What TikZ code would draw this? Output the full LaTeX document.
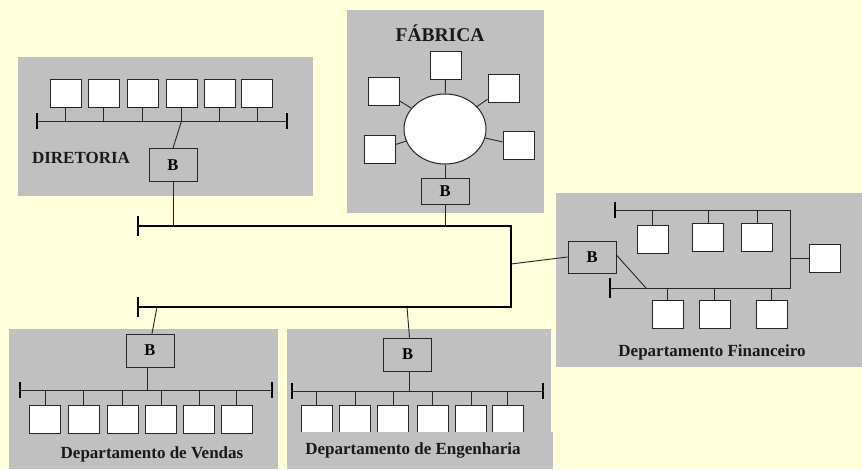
\documentclass[tikz,border=0pt]{standalone}
\usepackage{fontspec}
\setmainfont{Liberation Serif}
\usetikzlibrary{shapes.geometric}
\definecolor{bgyel}{HTML}{FFFFDC}
\definecolor{panelgray}{HTML}{C0C0C0}
\begin{document}
\begin{tikzpicture}[x=1pt,y=-1pt,
  panel/.style={fill=panelgray,draw=none},
  pc/.style={draw=black!85,fill=white,line width=1pt,minimum width=31pt,minimum height=28pt,inner sep=0pt},
  bridge/.style={draw=black!85,line width=0.9pt,minimum width=48pt,minimum height=33pt,inner sep=0pt,font=\fontsize{16.5}{16.5}\selectfont\bfseries},
  wire/.style={draw=black!85,line width=0.9pt},
  bus/.style={draw=black!85,line width=1pt},
  endbar/.style={draw=black,line width=2.6pt},
  backbone/.style={draw=black,line width=2.8pt},
  lbl/.style={font=\fontsize{17}{17}\selectfont\bfseries,text=black!90},
]
\useasboundingbox (0,0) rectangle (862,469);
\fill[bgyel] (0,0) rectangle (862,469);

% panels
\fill[panel] (18,57) rectangle (313,196);
\fill[panel] (347,10) rectangle (544,213);
\fill[panel] (556,193) rectangle (862,367);
\fill[panel] (9,329) rectangle (278,469);
\fill[panel] (287,329) rectangle (551,469);

% ---------------- DIRETORIA ----------------
\coordinate (dbl) at (37,121);
\coordinate (dbr) at (287,121);
\draw[bus] (dbl) -- (dbr);
\draw[endbar] (dbl) ++(0,-8) -- ++(0,16);
\draw[endbar] (dbr) ++(0,-8) -- ++(0,16);
\foreach \i/\x in {1/65.5,2/103.5,3/142.5,4/181.5,5/219.5,6/257}{
  \node[pc] (d\i) at (\x,93) {};
  \draw[wire] (d\i.south) -- (d\i.south |- dbl);
}
\node[bridge] (dB) at (173,165) {B};
\draw[wire] (d4.south |- dbl) -- (dB.north);
\node[lbl] (dlab) at (81,158) {DIRETORIA};

% ---------------- backbone ----------------
\coordinate (bb1) at (138,226);
\coordinate (bb2) at (511,226);
\coordinate (bb3) at (511,307);
\coordinate (bb4) at (138,307);
\draw[backbone] (bb1) -- (bb2) -- (bb3) -- (bb4);
\draw[endbar] (bb1) ++(0,-10) -- ++(0,20);
\draw[endbar] (bb4) ++(0,-10) -- ++(0,20);
\draw[wire] (dB.south) -- (dB.south |- bb1);

% ---------------- FABRICA ----------------
\node[font=\fontsize{19.5}{19.5}\selectfont\bfseries,text=black!90] (flab) at (440,33) {FÁBRICA};
\node[ellipse,draw=black!85,fill=white,line width=1pt,minimum width=82pt,minimum height=70pt,inner sep=0pt] (fe) at (445,129) {};
\node[pc] (ft) at (445.5,65.5) {};
\node[pc] (ftl) at (383.5,91) {};
\node[pc] (ftr) at (503.5,88) {};
\node[pc] (fbl) at (379.5,149.5) {};
\node[pc] (fbr) at (518.5,145.5) {};
\draw[wire] (ft) -- (fe);
\draw[wire] (ftl) -- (fe);
\draw[wire] (ftr) -- (fe);
\draw[wire] (fbl) -- (fe);
\draw[wire] (fbr) -- (fe);
\node[bridge,minimum height=26pt] (fB) at (445,191) {B};
\draw[wire] (fe.south) -- (fB.north);
\draw[wire] (fB.south) -- (fB.south |- bb1);

% ---------------- FINANCEIRO ----------------
\node[bridge,minimum height=32pt] (nB) at (592,257) {B};
\coordinate (nbb) at (511,264);
\draw[wire] (nbb) -- (nB.west);
\coordinate (nua) at (615,210);
\coordinate (nub) at (790,210);
\coordinate (nlb) at (790,288);
\coordinate (nla) at (610,288);
\draw[bus] (nua) -- (nub) -- (nlb) -- (nla);
\draw[endbar] (nua) ++(0,-8) -- ++(0,16);
\draw[endbar] (nla) ++(0,-10) -- ++(0,20);
\foreach \i/\x/\y in {1/652.5/239,2/708/237,3/757/237}{
  \node[pc] (nsu\i) at (\x,\y) {};
  \draw[wire] (nsu\i.north) -- (nsu\i.north |- nua);
}
\foreach \i/\x in {1/667.5,2/714.5,3/771.5}{
  \node[pc] (nsl\i) at (\x,314.5) {};
  \draw[wire] (nsl\i.north) -- (nsl\i.north |- nla);
}
\node[pc] (nsr) at (825,258) {};
\draw[wire] (nsr.west) -- (nsr.west -| nub);
\coordinate (ndg) at (646,288);
\draw[wire] (nB.east) ++(0,-2) -- (ndg);
\node[lbl] (nlab) at (712,352) {Departamento Financeiro};

% ---------------- VENDAS ----------------
\node[bridge] (vB) at (150,350.5) {B};
\coordinate (vbb) at (157,307);
\draw[wire] (vbb) -- ([xshift=2pt]vB.north);
\coordinate (vbl) at (20,390);
\coordinate (vbr) at (272,390);
\draw[bus] (vbl) -- (vbr);
\draw[endbar] (vbl) ++(0,-8) -- ++(0,16);
\draw[endbar] (vbr) ++(0,-8) -- ++(0,16);
\draw[wire] ([xshift=-3pt]vB.south) -- ([xshift=-3pt]vB.south |- vbl);
\foreach \i/\x in {1/45,2/83.5,3/122.5,4/161,5/199,6/236.5}{
  \node[pc] (v\i) at (\x,419) {};
  \draw[wire] (v\i.north) -- (v\i.north |- vbl);
}
\node[lbl] (vlab) at (152,454) {Departamento de Vendas};

% ---------------- ENGENHARIA ----------------
\node[bridge] (eB) at (407.5,354.5) {B};
\coordinate (ebb) at (407,307);
\draw[wire] (ebb) -- ([xshift=2pt]eB.north);
\coordinate (ebl) at (292,391);
\coordinate (ebr) at (543,391);
\draw[bus] (ebl) -- (ebr);
\draw[endbar] (ebl) ++(0,-8) -- ++(0,16);
\draw[endbar] (ebr) ++(0,-8) -- ++(0,16);
\draw[wire] ([xshift=2pt]eB.south) -- ([xshift=2pt]eB.south |- ebl);
\foreach \i/\x in {1/316.5,2/355,3/393,4/432.5,5/471,6/507.5}{
  \node[pc] (e\i) at (\x,419) {};
  \draw[wire] (e\i.north) -- (e\i.north |- ebl);
}
\fill[panel] (287,432) rectangle (553,469);
\node[lbl] (elab) at (413,450) {Departamento de Engenharia};
\end{tikzpicture}
\end{document}
